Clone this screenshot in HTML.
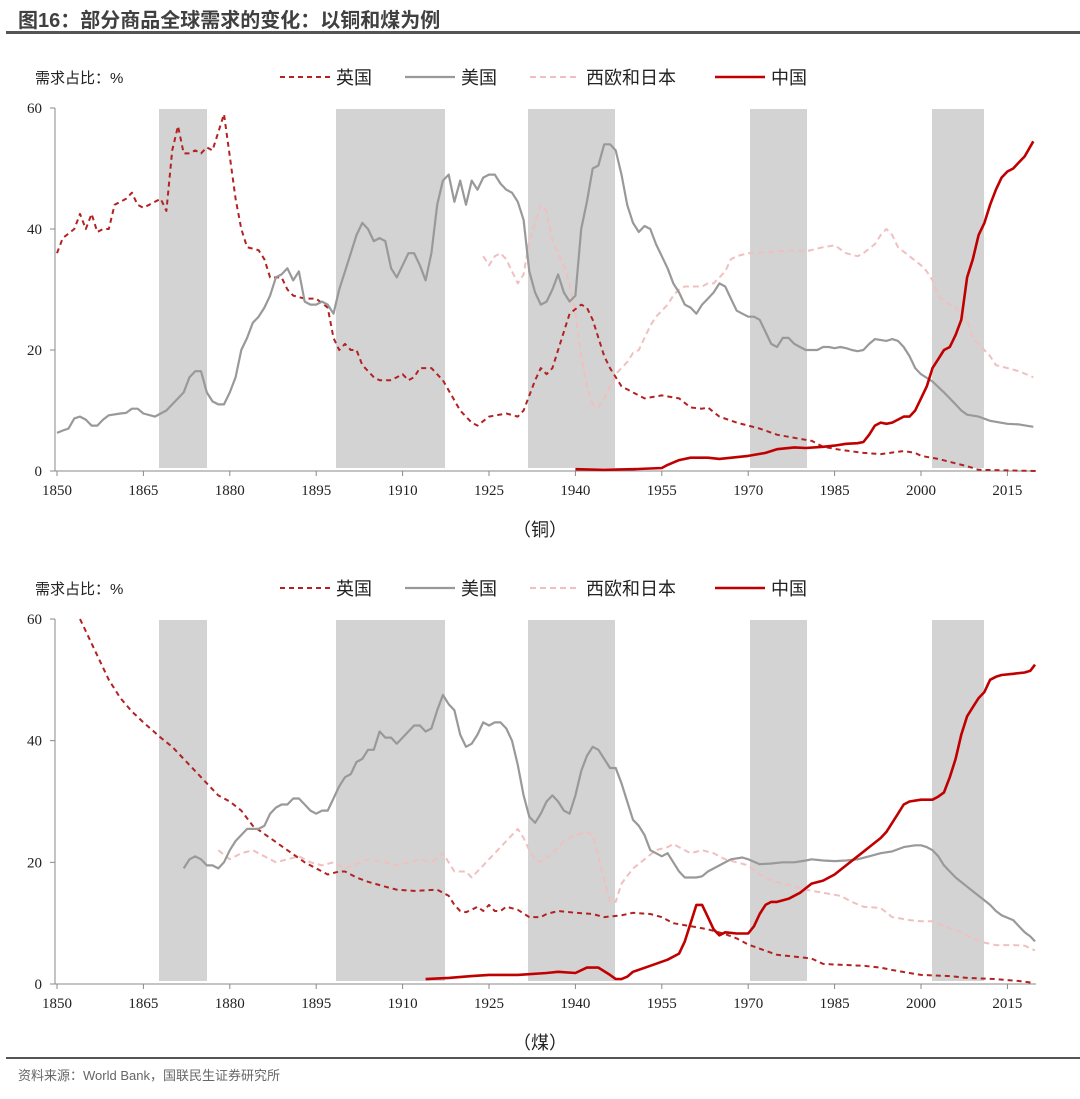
<!DOCTYPE html>
<html><head><meta charset="utf-8"><style>
body{margin:0;background:#fff;width:1080px;height:1094px;overflow:hidden;font-family:"Liberation Serif","Noto Serif CJK SC",serif}
svg text{font-family:"Liberation Serif","Noto Sans CJK SC",serif}
</style></head><body>
<svg id="s" width="1080" height="1094" xmlns="http://www.w3.org/2000/svg">
<text x="18" y="27" font-size="20" font-weight="bold" fill="#404040" style="font-family:'Liberation Sans','Noto Sans CJK SC',sans-serif">图16：部分商品全球需求的变化：以铜和煤为例</text>
<rect x="6" y="31" width="1074" height="3" fill="#555"/>
<rect x="6" y="1057" width="1074" height="2" fill="#555"/>
<text x="18" y="1080" font-size="13" fill="#666" style="font-family:'Liberation Sans','Noto Sans CJK SC',sans-serif">资料来源：World Bank，国联民生证券研究所</text>
<g id="g"></g>
</svg>
<script>
const g=document.getElementById('g');let h='';
const X=y=>57+(y-1850)*5.76;
function P(a,Y){let d='';for(let i=0;i<a.length;i+=2)d+=(i?'L':'M')+X(a[i]).toFixed(1)+','+Y(a[i+1]).toFixed(1);return d;}
const C={
uk:{c:'#b22222',w:2,da:'5,4'},us:{c:'#999',w:2.2,da:''},we:{c:'#f0c0c0',w:2,da:'6,4'},cn:{c:'#c00000',w:2.6,da:''}};
function chart(top,bot,label,data,bars){
 const Y=v=>bot-v*(bot-top)/60;
 const ly=top-31;
 h+=`<text x="35" y="${ly+6}" font-size="15" fill="#222" style="font-family:'Liberation Sans','Noto Sans CJK SC',sans-serif">需求占比：%</text>`;
 const L=[['uk',280,'英国'],['us',405,'美国'],['we',530,'西欧和日本'],['cn',715,'中国']];
 L.forEach(([k,x,t])=>{const s=C[k];h+=`<line x1="${x}" y1="${ly}" x2="${x+50}" y2="${ly}" stroke="${s.c}" stroke-width="${s.w}" stroke-dasharray="${s.da}"/><text x="${x+56}" y="${ly+7}" font-size="18" fill="#222" style="font-family:'Liberation Sans','Noto Sans CJK SC',sans-serif">${t}</text>`});
 bars.forEach(([a,b])=>{h+=`<rect x="${a}" y="${top+1}" width="${b-a}" height="${bot-top-4}" fill="#d3d3d3"/>`});
 h+=`<line x1="55" y1="${top}" x2="55" y2="${bot}" stroke="#888"/><line x1="55" y1="${bot}" x2="1036" y2="${bot}" stroke="#888"/>`;
 [0,20,40,60].forEach(v=>{h+=`<line x1="50" y1="${Y(v)}" x2="55" y2="${Y(v)}" stroke="#888"/><text x="42" y="${Y(v)+5}" font-size="15" text-anchor="end" fill="#222">${v}</text>`});
 for(let y=1850;y<=2015;y+=15){h+=`<line x1="${X(y)}" y1="${bot}" x2="${X(y)}" y2="${bot+5}" stroke="#888"/><text x="${X(y)}" y="${bot+24}" font-size="15" text-anchor="middle" fill="#222">${y}</text>`}
 h+=`<text x="540" y="${bot+65}" font-size="18" text-anchor="middle" fill="#222" style="font-family:'Liberation Sans','Noto Sans CJK SC',sans-serif">（${label}）</text>`;
 ['we','uk','us','cn'].forEach(k=>{const s=C[k];h+=`<path d="${P(data[k],Y)}" fill="none" stroke="${s.c}" stroke-width="${s.w}" stroke-dasharray="${s.da}" stroke-linejoin="round"/>`});
}
const cu={
uk:[1850,36,1851,38.5,1853,40,1854,42.5,1855,40,1856,42.5,1857,39.5,1858,40,1859,40,1860,44,1862,45,1863,46,1864,44,1865,43.5,1866,44,1867,44.5,1868,45,1869,43,1870,53,1871,57,1872,52.5,1873,52.5,1874,53,1875,52.5,1876,53.5,1877,53,1878,56,1879,59,1880,52,1881,45,1882,40,1883,37,1885,36.5,1886,35,1887,32,1889,32,1890,30,1891,29,1893,28.5,1895,28.5,1897,27,1898,22,1899,20,1900,21,1901,20,1902,20,1903,17.5,1905,15.5,1906,15,1908,15,1910,16,1911,15,1912,15.5,1913,17,1915,17,1917,15,1920,10,1922,8,1923,7.5,1925,9,1928,9.5,1930,9,1931,10,1933,15,1934,17,1935,16,1936,17,1937,20,1939,26,1941,27.5,1942,27,1943,25,1945,19,1946,17,1948,14,1950,13,1952,12,1955,12.5,1958,12,1960,10.5,1962,10.3,1963,10.5,1965,9,1968,8,1970,7.5,1972,7,1975,6,1979,5.3,1981,5,1983,4,1986,3.5,1990,3,1993,2.8,1997,3.3,1999,3,2000,2.5,2003,2,2005,1.5,2008,0.8,2010,0.2,2020,0],
us:[1850,6.3,1851,6.7,1852,7,1853,8.7,1854,9,1855,8.5,1856,7.5,1857,7.5,1858,8.5,1859,9.2,1861,9.5,1862,9.6,1863,10.3,1864,10.3,1865,9.5,1867,9,1868,9.5,1869,10,1870,11,1871,12,1872,13,1873,15.5,1874,16.5,1875,16.5,1876,13,1877,11.5,1878,11,1879,11,1880,13,1881,15.5,1882,20,1883,22,1884,24.5,1885,25.5,1886,27,1887,29,1888,32,1889,32.5,1890,33.5,1891,31.5,1892,33,1893,28,1894,27.5,1895,27.5,1896,28,1897,27.5,1898,26,1899,30,1900,33,1901,36,1902,39,1903,41,1904,40,1905,38,1906,38.5,1907,38,1908,33.5,1909,32,1910,34,1911,36,1912,36,1913,34,1914,31.5,1915,36,1916,44,1917,48,1918,49,1919,44.5,1920,48,1921,44,1922,48,1923,46.5,1924,48.5,1925,49,1926,49,1927,47.5,1928,46.5,1929,46,1930,44.5,1931,41.5,1932,33,1933,29.5,1934,27.5,1935,28,1936,30,1937,32.5,1938,29.5,1939,28,1940,29,1941,40,1942,44.5,1943,50,1944,50.5,1945,54,1946,54,1947,53,1948,49,1949,44,1950,41,1951,39.5,1952,40.5,1953,40,1954,37.5,1955,35.5,1956,33.5,1957,31,1958,29.5,1959,27.5,1960,27,1961,26,1962,27.5,1963,28.5,1964,29.5,1965,31,1966,30.5,1967,28.5,1968,26.5,1969,26,1970,25.5,1971,25.5,1972,25,1973,23,1974,21,1975,20.5,1976,22,1977,22,1978,21,1979,20.5,1980,20,1982,20,1983,20.5,1984,20.5,1985,20.3,1986,20.5,1987,20.3,1988,20,1989,19.8,1990,20,1991,21,1992,21.8,1994,21.5,1995,21.8,1996,21.5,1997,20.5,1998,19,1999,17,2000,16,2002,14.8,2004,13,2005,12,2006,11,2007,10,2008,9.3,2010,9,2012,8.3,2015,7.8,2017,7.7,2019.5,7.3],
we:[1924,35.5,1925,34,1926,35.5,1927,36,1928,35,1929,33,1930,31,1931,32.5,1932,38,1933,41,1934,44,1935,43,1936,38,1937,36,1938,34,1939,31,1940,26,1941,19,1942,14,1943,11,1944,10.5,1945,12,1946,14,1947,16,1948,17,1949,18,1950,19.5,1951,20,1952,22,1953,24,1954,25.5,1955,26.5,1956,27.5,1957,29,1958,30,1959,30.5,1960,30.5,1962,30.5,1963,31,1964,31,1965,32,1966,33,1967,35,1968,35.5,1970,36,1975,36.3,1978,36.5,1980,36.3,1983,37,1985,37.3,1987,36,1989,35.5,1990,36,1992,37.5,1993,39,1994,40,1995,39,1996,37,1998,35.5,2000,34,2001,33,2002,31.5,2003,29,2004,28,2006,27,2008,25,2009,22,2010,21,2012,19,2013,17.5,2015,17,2017,16.5,2019.5,15.5],
cn:[1940,0.3,1945,0.2,1950,0.3,1955,0.5,1956,1,1958,1.8,1960,2.2,1963,2.2,1965,2,1970,2.5,1973,3,1975,3.6,1978,3.9,1980,3.8,1983,4,1985,4.2,1987,4.5,1989,4.6,1990,4.8,1991,6,1992,7.5,1993,8,1994,7.8,1995,8,1996,8.5,1997,9,1998,9,1999,10,2000,12,2001,14,2002,17,2003,18.5,2004,20,2005,20.5,2006,22.5,2007,25,2008,32,2009,35,2010,39,2011,41,2012,44,2013,46.5,2014,48.5,2015,49.5,2016,50,2017,51,2018,52,2019.5,54.5]};
const co={
uk:[1854,60,1855,58,1857,54,1859,50,1861,47,1863,44.8,1865,43,1868,40.5,1870,39,1873,36,1876,33,1878,31,1880,30,1882,28.5,1884,26,1887,24,1890,22,1893,20,1896,18.5,1897,18,1899,18.5,1900,18.5,1902,17.5,1904,16.8,1907,16,1909,15.5,1912,15.3,1916,15.5,1918,14.5,1919,13,1920,12,1921,11.8,1922,12.2,1923,12.7,1924,12,1925,13,1926,12,1927,12,1928,12.7,1930,12.2,1932,11,1934,11,1935,11.5,1937,12,1940,11.7,1943,11.5,1945,11,1948,11.3,1950,11.7,1953,11.5,1955,11,1957,10,1960,9.5,1963,9,1966,8.2,1968,7.5,1970,6.5,1972,5.8,1975,4.8,1978,4.5,1981,4.2,1983,3.3,1985,3.2,1990,3,1993,2.7,1995,2.3,1998,1.8,2000,1.5,2005,1.3,2008,1,2013,0.8,2017,0.5,2019.5,0.2],
us:[1872,19,1873,20.5,1874,21,1875,20.5,1876,19.5,1877,19.5,1878,19,1879,20,1880,22,1881,23.5,1882,24.5,1883,25.5,1885,25.5,1886,26,1887,28,1888,29,1889,29.5,1890,29.5,1891,30.5,1892,30.5,1893,29.5,1894,28.5,1895,28,1896,28.5,1897,28.5,1898,30.5,1899,32.5,1900,34,1901,34.5,1902,36.5,1903,37,1904,38.5,1905,38.5,1906,41.5,1907,40.5,1908,40.5,1909,39.5,1910,40.5,1911,41.5,1912,42.5,1913,42.5,1914,41.5,1915,42,1916,45,1917,47.5,1918,46,1919,45,1920,41,1921,39,1922,39.5,1923,41,1924,43,1925,42.5,1926,43,1927,43,1928,42,1929,40,1930,36,1931,31,1932,27.5,1933,26.5,1934,28,1935,30,1936,31,1937,30,1938,28.5,1939,28,1940,31,1941,35,1942,37.5,1943,39,1944,38.5,1945,37,1946,35.5,1947,35.5,1948,33,1949,30,1950,27,1951,26,1952,24.5,1953,22,1954,21.5,1955,21,1956,21.5,1957,20,1958,18.5,1959,17.5,1961,17.5,1962,17.7,1963,18.5,1965,19.5,1967,20.5,1969,20.8,1970,20.5,1972,19.7,1974,19.8,1976,20,1978,20,1980,20.3,1981,20.5,1983,20.3,1985,20.2,1987,20.3,1989,20.5,1991,21,1993,21.5,1995,21.8,1997,22.5,1999,22.8,2000,22.8,2001,22.5,2002,22,2003,21,2004,19.5,2005,18.5,2006,17.5,2008,16,2010,14.5,2012,13,2013,12,2014,11.3,2016,10.5,2017,9.5,2018,8.5,2019,7.8,2019.8,7],
we:[1878,22,1880,20.5,1882,21.5,1884,22,1886,21,1888,20,1890,20.5,1892,21,1894,20,1896,19.5,1898,20,1900,19,1904,20.5,1907,20,1909,19.5,1911,20,1913,20.5,1915,20,1917,21.5,1919,18.5,1921,18.5,1922,17.5,1924,19.5,1926,21.5,1928,23.5,1930,25.5,1931,24,1932,22,1933,20.5,1934,20,1936,21.5,1938,23.5,1940,24.5,1942,25,1943,24.5,1944,21,1945,17,1946,13.5,1947,13.5,1948,16.5,1950,19,1952,20.5,1954,22,1956,22.5,1957,23,1959,22,1960,21.5,1962,22,1964,21.5,1966,20.5,1968,20,1970,19.5,1972,18,1974,17,1976,16.5,1978,16,1980,15.5,1983,15,1986,14.5,1988,13.5,1990,12.7,1993,12.5,1995,11,1998,10.5,2000,10.3,2002,10.3,2004,9.5,2007,8.5,2009,7.5,2011,6.8,2013,6.4,2016,6.4,2018,6.3,2019.8,5.5],
cn:[1914,0.8,1918,1,1922,1.3,1925,1.5,1927,1.5,1930,1.5,1935,1.8,1937,2,1940,1.8,1942,2.7,1944,2.7,1946,1.5,1947,0.8,1948,0.8,1949,1.2,1950,2,1953,3,1956,4,1958,5,1959,7,1960,10,1961,13,1962,13,1963,11,1964,9,1965,8,1966,8.5,1968,8.3,1970,8.3,1971,9.5,1972,11.5,1973,13,1974,13.5,1975,13.5,1977,14,1979,15,1981,16.5,1983,17,1985,18,1987,19.5,1989,21,1991,22.5,1993,24,1994,25,1995,26.5,1996,28,1997,29.5,1998,30,2000,30.3,2002,30.3,2003,30.8,2004,31.5,2005,34,2006,37,2007,41,2008,44,2009,45.5,2010,47,2011,48,2012,50,2013,50.5,2014,50.8,2016,51,2018,51.2,2019,51.5,2019.8,52.5]};
const bars=[[159,207],[336,445],[528,615],[750,807],[932,984]];
chart(108,471,'铜',cu,bars);
chart(619,984,'煤',co,bars);
g.innerHTML=h;
</script>
</body></html>
